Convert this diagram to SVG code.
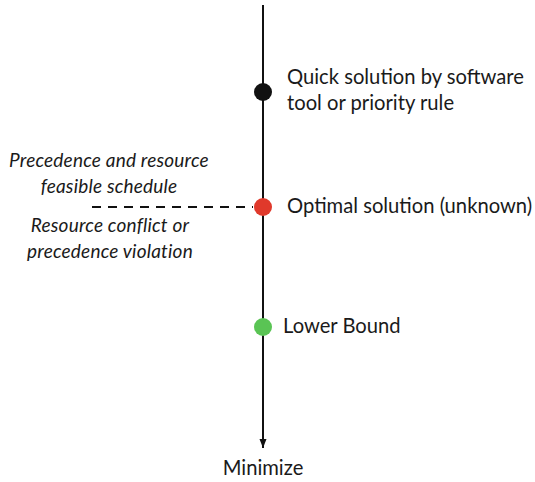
<svg xmlns="http://www.w3.org/2000/svg" width="535" height="482" viewBox="0 0 535 482">
<style>
.t{font-family:Lato,"Open Sans",sans-serif;font-size:20.2px;fill:#1a1a1a}
.i{font-family:Lato,"Open Sans",sans-serif;font-size:19px;font-style:italic;fill:#1a1a1a;text-anchor:middle;letter-spacing:0.2px}
</style>
<defs>
<marker id="ah" markerWidth="10" markerHeight="10" refX="9" refY="5" orient="auto" markerUnits="userSpaceOnUse">
<path d="M0,1.5 L9,5 L0,8.5 Z" fill="#111"/>
</marker>
</defs>
<g id="connectors">
<line x1="263" y1="5" x2="263" y2="448" stroke="#111" stroke-width="2" marker-end="url(#ah)"/>
<line x1="92" y1="207" x2="253" y2="207" stroke="#111" stroke-width="1.8" stroke-dasharray="9,7"/>
</g>
<g id="quick">
<circle cx="263" cy="92" r="9" fill="#111"/>
<text class="t" x="287" y="84">Quick solution by software</text>
<text class="t" x="287" y="110">tool or priority rule</text>
</g>
<g id="optimal">
<circle cx="263" cy="207" r="9" fill="#e0392b"/>
<text class="t" x="287" y="213">Optimal solution (unknown)</text>
</g>
<g id="lower">
<circle cx="263" cy="327" r="9" fill="#5ac454"/>
<text class="t" x="283" y="333">Lower Bound</text>
</g>
<g id="feasible">
<text class="i" x="109" y="167">Precedence and resource</text>
<text class="i" x="109" y="193">feasible schedule</text>
</g>
<g id="conflict">
<text class="i" x="110" y="232">Resource conflict or</text>
<text class="i" x="110" y="258">precedence violation</text>
</g>
<g id="minimize">
<text class="t" x="263" y="475" text-anchor="middle">Minimize</text>
</g>
</svg>
